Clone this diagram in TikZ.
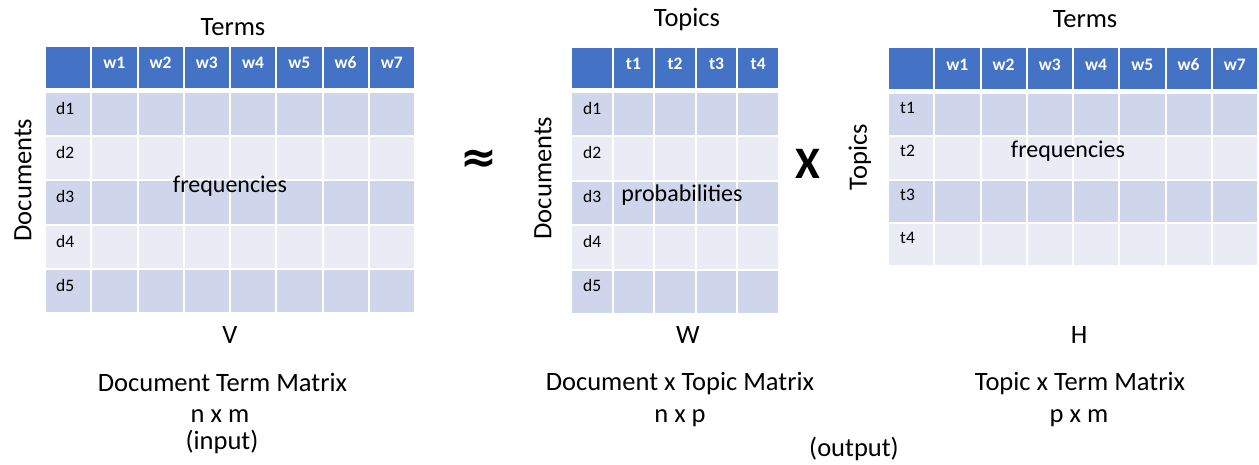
\documentclass[tikz,border=0pt]{standalone}
\usepackage{fontspec}
\setmainfont{Carlito}
\newfontfamily\symfont{DejaVu Sans}
\definecolor{hdr}{HTML}{4472C4}
\definecolor{rowa}{HTML}{CFD5EA}
\definecolor{rowb}{HTML}{E9EBF5}
% #1 x0, #2 header top, #3 header bottom, #4 body top, #5 ncols, #6 colw, #7 nrows, #8 rowh
\newcommand\drawgrid[8]{%
  \foreach \c in {1,...,#5} {
    \fill[hdr] ({#1+(\c-1)*#6+1},#2) rectangle ({#1+\c*#6-1},#3);
    \foreach \r in {1,...,#7} {
      \ifodd\r\def\rcol{rowa}\else\def\rcol{rowb}\fi
      \fill[\rcol] ({#1+(\c-1)*#6+1},{#4+(\r-1)*#8+1}) rectangle ({#1+\c*#6-1},{#4+\r*#8-1});
    }
  }%
}
\begin{document}
\begin{tikzpicture}[x=1pt,y=-1pt,
  lbl/.style={inner sep=0pt, font=\fontsize{26.5}{30}\selectfont},
  vlbl/.style={inner sep=0pt, rotate=90, font=\fontsize{26.5}{30}\selectfont},
  mid/.style={inner sep=0pt, font=\fontsize{24}{28}\selectfont, anchor=base},
  hcell/.style={inner sep=0pt, text=white, font=\fontsize{17.5}{20}\selectfont\bfseries},
  rcell/.style={inner sep=0pt, anchor=west, font=\fontsize{17.5}{20}\selectfont}]
\useasboundingbox[fill=white] (0,0) rectangle (1259,464);

% ---------- left matrix V ----------
\drawgrid{45}{47}{88}{92}{8}{46.25}{5}{44.2}
\foreach \i in {1,...,7} \node[hcell] (Lw\i) at ({45+\i*46.25+23.125},63) {w\i};
\foreach \i in {1,...,5} \node[rcell] (Ld\i) at (56,{92+(\i-1)*44.2+16.5}) {d\i};
\node[mid] (Lfreq) at (230,192) {frequencies};
\node[lbl, anchor=base] (Lterms) at (233,35) {Terms};
\node[vlbl] (Ldocs) at (23,180) {Documents};

% ---------- middle matrix W ----------
\drawgrid{571}{48}{88}{92}{5}{41.6}{5}{44.4}
\foreach \i in {1,...,4} \node[hcell] (Mt\i) at ({571+\i*41.6+20.8},63.5) {t\i};
\foreach \i in {1,...,5} \node[rcell] (Md\i) at (583,{92+(\i-1)*44.4+16}) {d\i};
\node[mid] (Mprob) at (682,201.5) {probabilities};
\node[lbl, anchor=base] (Mtopics) at (687,26) {Topics};
\node[vlbl] (Mdocs) at (543,178) {Documents};

% ---------- right matrix H ----------
\drawgrid{888}{48}{89}{93}{8}{46.25}{4}{43.3}
\foreach \i in {1,...,7} \node[hcell] (Rw\i) at ({888+\i*46.25+23.125},65) {w\i};
\foreach \i in {1,...,4} \node[rcell] (Rt\i) at (900,{93+(\i-1)*43.3+15}) {t\i};
\node[mid] (Rfreq) at (1068,157) {frequencies};
\node[lbl, anchor=base] (Rterms) at (1085,27) {Terms};
\node[vlbl] (Rtopics) at (860,157) {Topics};

% ---------- operators ----------
\node[inner sep=0pt, font=\symfont\bfseries\fontsize{44}{46}\selectfont] (approx) at (479,161) {≈};
\node[inner sep=0pt, anchor=base, font=\bfseries\fontsize{45}{50}\selectfont] (times) at (808,178) {X};

% ---------- captions ----------
\node[lbl, anchor=base] (V) at (230,343) {V};
\node[lbl, anchor=base] (Vname) at (222.5,391.5) {Document Term Matrix};
\node[lbl, anchor=base] (Vdim) at (220,422) {n x m};
\node[lbl, anchor=base] (Vin) at (222,449.5) {(input)};

\node[lbl, anchor=base] (W) at (688,343) {W};
\node[lbl, anchor=base] (Wname) at (680,390.5) {Document x Topic Matrix};
\node[lbl, anchor=base] (Wdim) at (680,422) {n x p};
\node[lbl, anchor=base] (out) at (854,456) {(output)};

\node[lbl, anchor=base] (H) at (1079,343) {H};
\node[lbl, anchor=base] (Hname) at (1080,390.5) {Topic x Term Matrix};
\node[lbl, anchor=base] (Hdim) at (1079,422) {p x m};
\end{tikzpicture}
\end{document}
